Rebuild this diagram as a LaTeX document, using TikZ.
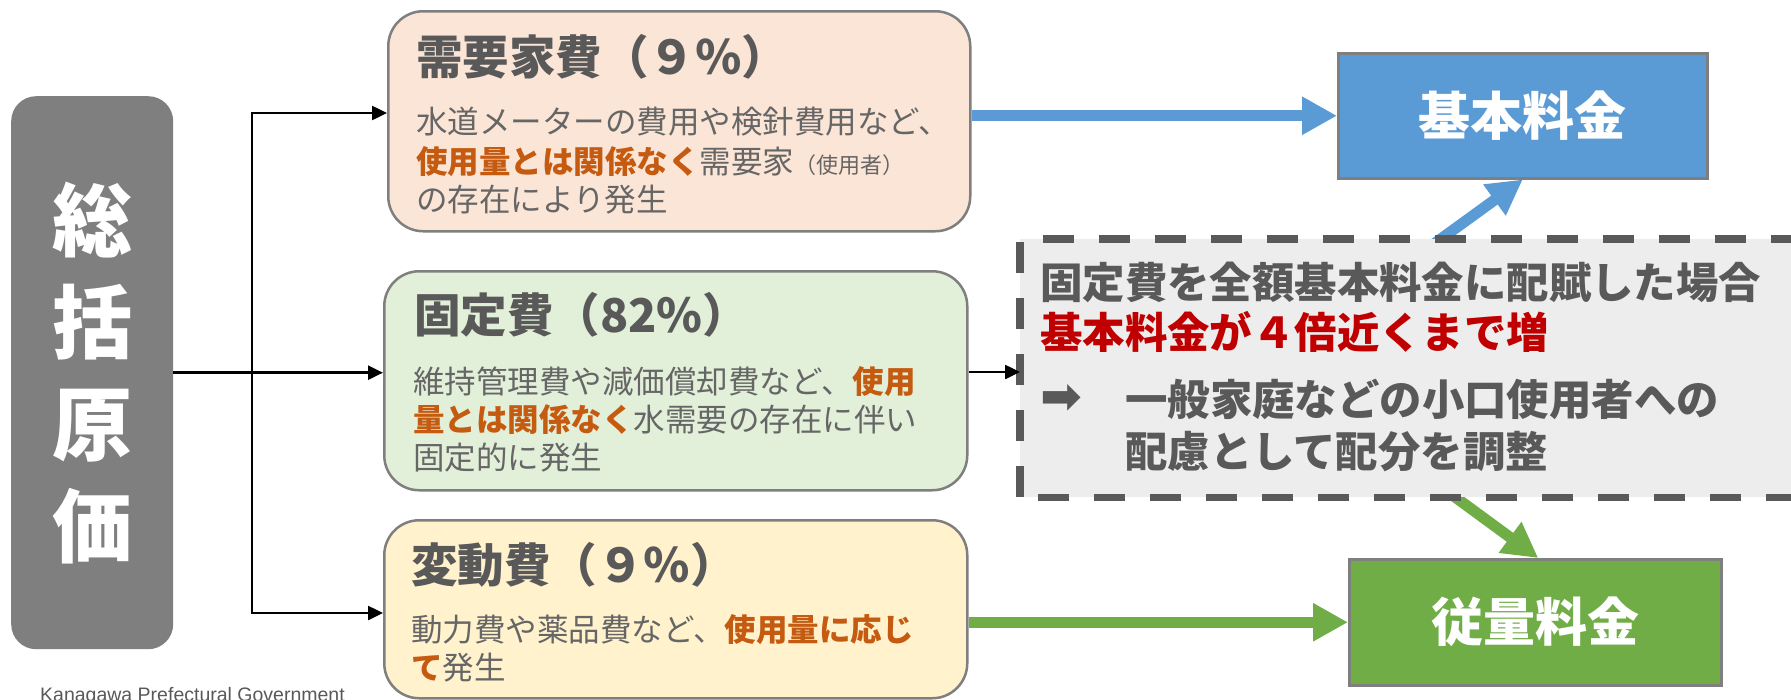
\documentclass[tikz,border=0pt]{standalone}
\usepackage{fontspec}
\setmainfont{Noto Sans CJK JP}
\newfontfamily\symfont{DejaVu Sans}
\newfontfamily\latfont{Liberation Sans}
\usetikzlibrary{arrows.meta,backgrounds}
\definecolor{txtgray}{HTML}{595959}
\definecolor{bodygray}{HTML}{666666}
\definecolor{accent}{HTML}{C55A11}
\definecolor{warn}{HTML}{C00000}
\definecolor{boxline}{HTML}{7F7F7F}
\definecolor{peach}{HTML}{FBE5D6}
\definecolor{mint}{HTML}{E2F0D9}
\definecolor{cream}{HTML}{FFF2CC}
\definecolor{sky}{HTML}{5B9BD5}
\definecolor{leaf}{HTML}{70AD47}
\definecolor{mist}{HTML}{EDEDED}
\definecolor{dashgray}{HTML}{595959}
\newcommand{\hlt}[1]{{\bfseries\color{accent}#1}}
\begin{document}
\begin{tikzpicture}[x=1pt,y=-1pt,
  costbox/.style={draw=boxline, line width=2.5pt, rounded corners=35pt, inner sep=0pt, anchor=north west},
  ratebox/.style={draw=boxline, line width=2.5pt, inner sep=0pt, anchor=north west, text=white,
     font=\bfseries\fontsize{52}{52}\selectfont},
  titletxt/.style={inner sep=0pt, anchor=west, text=txtgray, font=\bfseries\fontsize{46.5}{46.5}\selectfont},
  bodytxt/.style={inner sep=0pt, anchor=west, text=bodygray, font=\fontsize{31.5}{31.5}\selectfont},
  notetxt/.style={inner sep=0pt, anchor=west, text=txtgray, font=\bfseries\fontsize{42.4}{42.4}\selectfont},
  blk/.style={draw=black, line width=2.5pt, line join=miter, -{Triangle[length=15pt,width=14pt]}},
  skyarrow/.style={draw=sky, line width=11pt, -{Triangle[length=35pt,width=36pt]}},
  leafarrow/.style={draw=leaf, line width=11pt, -{Triangle[length=35pt,width=36pt]}},
  dashedge/.style={draw=dashgray, line width=7.5pt, dash pattern=on 31pt off 25pt}
]
\useasboundingbox (0,0) rectangle (1791,699);

% left total box
\node[fill=boxline, rounded corners=25pt, inner sep=0pt, anchor=north west,
  minimum width=162pt, minimum height=553pt, text=white, align=center,
  font=\bfseries\fontsize{80}{102}\selectfont] (total) at (11,96) {総\\括\\原\\価};

% cost boxes
\node[costbox, fill=peach, minimum width=582pt, minimum height=220pt] (demand) at (387,10) {};
\node[costbox, fill=mint, minimum width=583pt, minimum height=219pt] (fixed) at (383,270) {};
\node[costbox, fill=cream, minimum width=583pt, minimum height=178pt] (costvar) at (383,519) {};

% texts of box 1
\node[titletxt] (t1) at (416,57) {需要家費（９％）};
\node[bodytxt] (b1a) at (416,122) {水道メーターの費用や検針費用など、};
\node[bodytxt] (b1b) at (416,162) {\hlt{使用量とは関係なく}需要家{\fontsize{22}{22}\selectfont（使用者）}};
\node[bodytxt] (b1c) at (416,200) {の存在により発生};

% texts of box 2
\node[titletxt] (t2) at (414,315) {固定費（82\%）};
\node[bodytxt] (b2a) at (413,382) {維持管理費や減価償却費など、\hlt{使用}};
\node[bodytxt] (b2b) at (413,420) {\hlt{量とは関係なく}水需要の存在に伴い};
\node[bodytxt] (b2c) at (413,458) {固定的に発生};

% texts of box 3
\node[titletxt] (t3) at (411,565) {変動費（９％）};
\node[bodytxt] (b3a) at (411,630) {動力費や薬品費など、\hlt{使用量に応じ}};
\node[bodytxt] (b3b) at (411,668) {\hlt{て}発生};

% rate boxes
\node[ratebox, fill=sky, minimum width=369pt, minimum height=125pt] (kihon) at (1337,52) {基本料金};
\node[ratebox, fill=leaf, minimum width=372pt, minimum height=126pt] (juryo) at (1348,558) {従量料金};

% dashed note box
\node[fill=mist, inner sep=0pt, anchor=north west, minimum width=780pt, minimum height=258pt] (dbox) at (1020,239) {};
\draw[dashedge, dash phase=33pt] (dbox.north west) -- (dbox.north east);
\draw[dashedge, dash phase=38pt] (dbox.south west) -- (dbox.south east);
\draw[dashedge, dash phase=53pt] (dbox.north west) -- (dbox.south west);

\node[notetxt] (n1) at (1040,282) {固定費を全額基本料金に配賦した場合};
\node[notetxt, text=warn] (n2) at (1040,332) {基本料金が４倍近くまで増};
\node[inner sep=0pt, anchor=west, text=txtgray, font=\symfont\bfseries\fontsize{50}{50}\selectfont] (n3arrow) at (1040,399) {➡};
\node[notetxt] (n3) at (1125,399) {一般家庭などの小口使用者への};
\node[notetxt] (n4) at (1125,452) {配慮として配分を調整};

% credit
\node[inner sep=0pt, anchor=base west, text=black!65, font=\latfont\fontsize{19.5}{19.5}\selectfont] (credit) at (40,701) {Kanagawa Prefectural Government};

% connectors
\coordinate (jtop) at (252,113);
\coordinate (jbot) at (252,613);
\coordinate (jmid) at (990,372);
\draw[blk, {Triangle[length=15pt,width=14pt]}-{Triangle[length=15pt,width=14pt]}]
  (jtop -| demand.west) -- (jtop) -- (jbot) -- (jbot -| costvar.west);
\draw[blk] (total.east) -- (total.east -| fixed.west);
\draw[blk] (fixed.east |- jmid) -- (dbox.west |- jmid);

\draw[skyarrow] (demand.east |- kihon.west) -- (kihon.west);
\draw[leafarrow] (costvar.east |- juryo.west) -- (juryo.west);

\begin{pgfonlayer}{background}
\fill[white] (0,0) rectangle (1791,699);
\draw[skyarrow] ([xshift=14pt,yshift=-12pt]dbox.north) -- (kihon.south);
\draw[leafarrow] ([xshift=29pt,yshift=12pt]dbox.south) -- ([xshift=3pt]juryo.north);
\end{pgfonlayer}
\end{tikzpicture}
\end{document}
